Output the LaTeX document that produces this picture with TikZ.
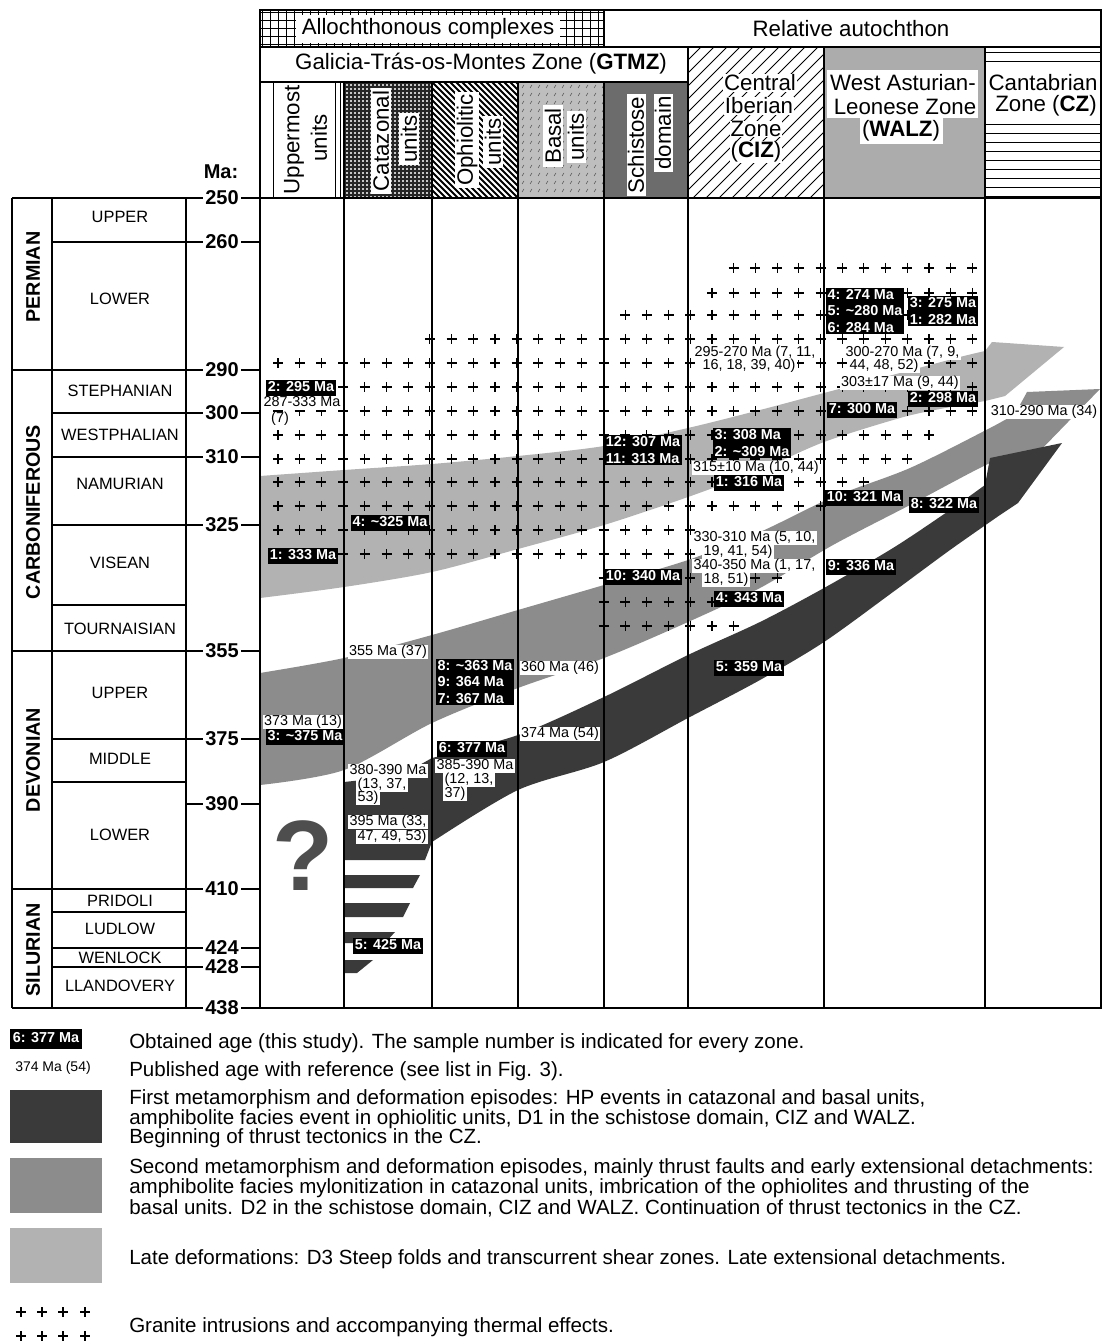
\documentclass[tikz,border=0pt]{standalone}
\usepackage{fontspec}
\setmainfont{Liberation Sans}
\definecolor{dkband}{RGB}{58,58,58}
\definecolor{mdband}{RGB}{140,140,140}
\definecolor{ltband}{RGB}{178,178,178}
\definecolor{basalc}{RGB}{190,190,190}
\definecolor{schistc}{RGB}{108,108,108}
\definecolor{walzc}{RGB}{172,172,172}
\definecolor{qmark}{RGB}{78,78,78}
\begin{document}
\begin{tikzpicture}[x=0.75pt,y=-0.75pt,
  frm/.style={line width=1.1pt},
  blab/.style={fill=black,text=white,font=\fontsize{10.8}{12.4}\selectfont\bfseries,inner xsep=1.6pt,inner ysep=1.2pt},
  bsingle/.style={blab,text height=7.6pt,text depth=1.8pt},
  bmulti/.style={blab,align=left},
  wlab/.style={fill=white,text=black,font=\fontsize{10.8}{12}\selectfont,inner xsep=1pt,inner ysep=0.4pt,text height=7.6pt,text depth=2pt},
  hdr/.style={font=\fontsize{16.7}{19}\selectfont,inner sep=1pt},
  hdrv/.style={hdr,rotate=90,fill=white,inner xsep=2pt,inner ysep=1pt},
  epoch/.style={font=\fontsize{12.3}{14}\selectfont},
  period/.style={font=\fontsize{14.8}{16}\selectfont\bfseries,rotate=90},
  age/.style={font=\fontsize{15}{16}\selectfont\bfseries,inner sep=0pt},
  legt/.style={font=\fontsize{15.4}{16}\selectfont,anchor=base west,inner sep=0pt},
  crs/.style={line width=0.8pt},
]
\useasboundingbox (0,0) rectangle (1102,1344);
\fill[white] (0,0) rectangle (1102,1344);

% ---------- header patterns ----------
\begin{scope}
\clip (260,10) rectangle (604,47);
\foreach \xx in {262,270,...,606} \draw[line width=0.5pt] (\xx,10) -- (\xx,47);
\foreach \yy in {12,20,...,46} \draw[line width=0.5pt] (260,\yy) -- (604,\yy);
\end{scope}
\foreach \xx in {273,335,340} \draw[line width=0.6pt] (\xx,82) -- (\xx,198);
\begin{scope}
\clip (344,82) rectangle (432,198);
\fill[gray!45] (344,82) rectangle (432,198);
\foreach \xx in {345,349,...,433} \draw[line width=0.9pt,black!85] (\xx,82) -- (\xx,198);
\foreach \yy in {83,87,...,198} \draw[line width=0.9pt,black!85] (344,\yy) -- (432,\yy);
\end{scope}
\begin{scope}
\clip (432,82) rectangle (518,198);
\foreach \xx in {312,318,...,520} \draw[line width=1.4pt] (\xx,82) -- ++(116,116);
\end{scope}
\begin{scope}
\clip (518,82) rectangle (604,198);
\fill[basalc] (518,82) rectangle (604,198);
\foreach \xx in {522,530,...,602} \foreach \yy in {88,96,...,196} \draw[gray!60!black,line width=0.4pt] (\xx,\yy) -- ++(2,-3);
\end{scope}
\fill[schistc] (604,82) rectangle (688,198);
\begin{scope}
\clip (688,47) rectangle (824,198);
\foreach \xx in {688,701,...,980} \draw[line width=0.6pt] (\xx,47) -- ++(-151,151);
\end{scope}
\fill[walzc] (824,47) rectangle (985,198);
\foreach \yy in {52,61,...,196} \draw[line width=0.6pt] (985,\yy) -- (1101,\yy);

% ---------- bands ----------
\fill[ltband] plot[smooth] coordinates {(260,476) (344,470) (432,464) (518,456) (604,446) (688,428) (760,410) (824,393) (900,373) (960,357) (985,351)}
  -- (992,342) -- (1064,347) -- (1005,396)
  -- plot[smooth] coordinates {(985,401) (940,409) (900,418) (824,442) (760,470) (688,497) (604,525) (518,549) (432,572) (344,587) (260,598)} -- cycle;
\fill[mdband] plot[smooth] coordinates {(260,673) (344,658) (432,635) (518,610) (604,585) (688,560) (760,532) (833,497) (910,468) (990,428) (1015,414)}
  -- (1027,392) -- (1100,389) -- (1035,456)
  -- plot[smooth] coordinates {(1020,455) (990,463) (910,505) (833,545) (760,588) (688,622) (604,658) (518,688) (432,723) (344,770) (260,785)} -- cycle;
\fill[dkband] (344,782) -- (400,776)
  -- plot[smooth] coordinates {(432,758) (518,735) (604,697) (688,655) (760,622) (824,588) (893,548) (950,510) (985,485)}
  -- (990,458) -- (1062,443) -- (1018,503)
  -- plot[smooth] coordinates {(1000,515) (950,550) (893,592) (824,642) (760,680) (688,718) (604,762) (518,790) (432,842)}
  -- (425,860) -- (344,860) -- cycle;
\fill[dkband] (344,875) -- (420,875) -- (413,888) -- (344,888) -- cycle;
\fill[dkband] (344,903) -- (410,903) -- (403,917) -- (344,917) -- cycle;
\fill[dkband] (344,932) -- (395,932) -- (385,943) -- (344,943) -- cycle;
\fill[dkband] (344,960) -- (373,960) -- (357,973) -- (344,973) -- cycle;

% ---------- granite crosses ----------
\foreach \yy/\ka/\kb in {268/21/32, 293/20/32, 315/16/32, 339/7/32, 363/0/32, 387/0/32, 411/0/32, 435/0/30, 459/0/29, 482/0/27, 506/0/25, 530/0/19, 554/3/19, 578/15/23, 602/15/20, 626/15/21} {
  \foreach \k in {\ka,...,\kb} {
    \draw[crs] ({278+21.7*\k-5},\yy) -- ++(10,0) ({278+21.7*\k},{\yy-5}) -- ++(0,10);
  }
}

\node[font=\fontsize{75}{75}\selectfont\bfseries,text=qmark] (qm) at (303,856) {?};

% ---------- frame lines ----------
\draw[frm] (260,10) rectangle (1101,1008);
\draw[frm] (260,47) -- (1101,47);
\draw[frm] (260,82) -- (688,82);
\draw[frm] (260,198) -- (1101,198);
\draw[frm] (604,10) -- (604,47);
\foreach \xx in {344,432,518,604} \draw[frm] (\xx,82) -- (\xx,1008);
\foreach \xx in {688,824,985} \draw[frm] (\xx,47) -- (\xx,1008);

% left table
\draw[frm] (12,198) -- (12,1008) (52,198) -- (52,1008) (186,198) -- (186,1008);
\draw[frm] (12,1008) -- (203,1008);
\foreach \yy in {198,370,651,889} \draw[frm] (12,\yy) -- (203,\yy);
\foreach \yy in {242,413,457,525,739,948,967} \draw[frm] (52,\yy) -- (203,\yy);
\foreach \yy in {605,782,912} \draw[frm] (52,\yy) -- (186,\yy);
\draw[frm] (186,804) -- (203,804);
\foreach \yy in {198,242,370,413,457,525,651,739,804,889,948,967,1008} \draw[frm] (241,\yy) -- (260,\yy);
\foreach \yy/\lab in {198/250,242/260,370/290,413/300,457/310,525/325,651/355,739/375,804/390,889/410,948/424,967/428,1008/438}
  \node[age] (a\lab) at (222,\yy) {\lab};
\node[age] (ma) at (221,172) {Ma:};

\node[period] (pP) at (33,277) {PERMIAN};
\node[period] (pC) at (33,512) {CARBONIFEROUS};
\node[period] (pD) at (33,760) {DEVONIAN};
\node[period] (pS) at (33,950) {SILURIAN};

\node[epoch] (e1) at (120,217) {UPPER};
\node[epoch] (e2) at (120,299) {LOWER};
\node[epoch] (e3) at (120,391) {STEPHANIAN};
\node[epoch] (e4) at (120,435) {WESTPHALIAN};
\node[epoch] (e5) at (120,484) {NAMURIAN};
\node[epoch] (e6) at (120,563) {VISEAN};
\node[epoch] (e7) at (120,629) {TOURNAISIAN};
\node[epoch] (e8) at (120,693) {UPPER};
\node[epoch] (e9) at (120,759) {MIDDLE};
\node[epoch] (e10) at (120,835) {LOWER};
\node[epoch] (e11) at (120,901) {PRIDOLI};
\node[epoch] (e12) at (120,929) {LUDLOW};
\node[epoch] (e13) at (120,958) {WENLOCK};
\node[epoch] (e14) at (120,986) {LLANDOVERY};

% ---------- header texts ----------
\node[hdr,fill=white,inner xsep=4pt,inner ysep=2.5pt] (hAC) at (428,29) {Allochthonous complexes};
\node[hdr] (hRA) at (851,29) {Relative autochthon};
\node[hdr] (hG) at (481,64) {Galicia-Trás-os-Montes Zone (\textbf{GTMZ})};
\node[hdrv] (hU1) at (294,140) {Uppermost};
\node[hdrv] (hU2) at (319,138) {units};
\node[hdrv] (hK1) at (381,141) {Catazonal};
\node[hdrv] (hK2) at (409,139) {units};
\node[hdrv] (hO1) at (467,140) {Ophiolitic};
\node[hdrv] (hO2) at (493,142) {units};
\node[hdrv] (hB1) at (553,136) {Basal};
\node[hdrv] (hB2) at (576,137) {units};
\node[hdrv] (hS1) at (636,145) {Schistose};
\node[hdrv] (hS2) at (663,133) {domain};
\node[hdr,fill=white,inner sep=0.5pt] (hC1) at (760,83) {Central};
\node[hdr,fill=white,inner sep=0.5pt] (hC2) at (759,106) {Iberian};
\node[hdr,fill=white,inner sep=0.5pt] (hC3) at (756,129) {Zone};
\node[hdr,fill=white,inner sep=0.5pt] (hC4) at (756,152) {(\textbf{CIZ})};
\fill[white] (827,70) rectangle (978,118);
\fill[white] (860,118) rectangle (943,144);
\node[hdr] (hW1) at (903,83) {West Asturian-};
\node[hdr] (hW2) at (905,107) {Leonese Zone};
\node[hdr] (hW3) at (901,131) {(\textbf{WALZ})};
\fill[white] (986,66) rectangle (1100,118);
\node[hdr] (hZ1) at (1043,83) {Cantabrian};
\node[hdr] (hZ2) at (1046,106) {Zone (\textbf{CZ})};

% ---------- age labels ----------
\node[bsingle] (b1) at (301,388) {2: 295 Ma};
\node[bsingle] (b2) at (303,556) {1: 333 Ma};
\node[bsingle] (b3) at (390,523) {4: \textasciitilde325 Ma};
\node[bsingle] (b4) at (305,737) {3: \textasciitilde375 Ma};
\node[bmulti] (b5) at (475,682) {8: \textasciitilde363 Ma\\9: 364 Ma\\7: 367 Ma};
\node[bsingle] (b6) at (472,749) {6: 377 Ma};
\node[bmulti] (b7) at (643,450) {12: 307 Ma\\11: 313 Ma};
\node[bsingle] (b8) at (643,577) {10: 340 Ma};
\node[bmulti] (b9) at (752,443) {3: 308 Ma\\2: \textasciitilde309 Ma};
\node[bsingle] (b10) at (749,483) {1: 316 Ma};
\node[bsingle] (b11) at (749,599) {4: 343 Ma};
\node[bsingle] (b12) at (749,668) {5: 359 Ma};
\node[bmulti] (b13) at (865,311) {4: 274 Ma\\5: \textasciitilde280 Ma\\6: 284 Ma};
\node[bmulti] (b14) at (943,311) {3: 275 Ma\\1: 282 Ma};
\node[bsingle] (b15) at (862,410) {7: 300 Ma};
\node[bsingle] (b16) at (943,399) {2: 298 Ma};
\node[bsingle] (b17) at (864,498) {10: 321 Ma};
\node[bsingle] (b18) at (944,505) {8: 322 Ma};
\node[bsingle] (b19) at (861,567) {9: 336 Ma};
\node[bsingle] (b20) at (388,946) {5: 425 Ma};

\node[wlab] (w1) at (302,403) {287-333 Ma};
\node[wlab] (w2) at (280,419) {(7)};
\node[wlab] (w3) at (303,722) {373 Ma (13)};
\node[wlab] (w4) at (388,652) {355 Ma (37)};
\node[wlab] (w5) at (560,668) {360 Ma (46)};
\node[wlab] (w6) at (560,734) {374 Ma (54)};
\node[wlab] (w7) at (388,771) {380-390 Ma};
\node[wlab,anchor=west] (w8) at (356,785) {(13, 37,};
\node[wlab,anchor=west] (w9) at (356,798) {53)};
\node[wlab] (w10) at (475,766) {385-390 Ma};
\node[wlab,anchor=west] (w11) at (443,780) {(12, 13,};
\node[wlab,anchor=west] (w12) at (443,794) {37)};
\node[wlab] (w13) at (388,822) {395 Ma (33,};
\node[wlab,anchor=east] (w14) at (428,837) {47, 49, 53)};
\node[wlab] (w15) at (755,353) {295-270 Ma (7, 11,};
\node[wlab] (w16) at (749,366) {16, 18, 39, 40)};
\node[wlab,anchor=west] (w17) at (844,353) {300-270 Ma (7, 9,};
\node[wlab,anchor=west] (w18) at (848,366) {44, 48, 52)};
\node[wlab] (w19) at (900,383) {303±17 Ma (9, 44)};
\node[wlab] (w20) at (756,468) {315±10 Ma (10, 44)};
\node[wlab,anchor=west] (w21) at (692,538) {330-310 Ma (5, 10,};
\node[wlab,anchor=west] (w22) at (702,552) {19, 41, 54)};
\node[wlab,anchor=west] (w23) at (692,566) {340-350 Ma (1, 17,};
\node[wlab,anchor=west] (w24) at (702,580) {18, 51)};
\node[wlab] (w25) at (1044,412) {310-290 Ma (34)};

% ---------- legend ----------
\node[blab,text height=7.4pt,text depth=1.8pt,inner ysep=3pt,inner xsep=2.5pt] (lg1) at (46,1039) {6: 377 Ma};
\node[font=\fontsize{10.5}{12}\selectfont,inner sep=0pt] (lg2) at (53,1068) {374 Ma (54)};
\fill[dkband] (10,1090) rectangle (102,1143);
\fill[mdband] (10,1158) rectangle (102,1213);
\fill[ltband] (10,1228) rectangle (102,1283);
\foreach \yy in {1312,1336} \foreach \xx in {21,42,63,85} \draw[crs] (\xx-5,\yy) -- ++(10,0) (\xx,\yy-5) -- ++(0,10);
\node[legt] (t1) at (129,1048) {Obtained age (this study). The sample number is indicated for every zone.};
\node[legt] (t2) at (129,1076) {Published age with reference (see list in Fig. 3).};
\node[legt] (t3) at (129,1104) {First metamorphism and deformation episodes: HP events in catazonal and basal units,};
\node[legt] (t4) at (129,1124) {amphibolite facies event in ophiolitic units, D1 in the schistose domain, CIZ and WALZ.};
\node[legt] (t5) at (129,1143) {Beginning of thrust tectonics in the CZ.};
\node[legt] (t6) at (129,1173) {Second metamorphism and deformation episodes, mainly thrust faults and early extensional detachments:};
\node[legt] (t7) at (129,1193) {amphibolite facies mylonitization in catazonal units, imbrication of the ophiolites and thrusting of the};
\node[legt] (t8) at (129,1214) {basal units. D2 in the schistose domain, CIZ and WALZ. Continuation of thrust tectonics in the CZ.};
\node[legt] (t9) at (129,1264) {Late deformations: D3 Steep folds and transcurrent shear zones. Late extensional detachments.};
\node[legt] (t10) at (129,1332) {Granite intrusions and accompanying thermal effects.};
\end{tikzpicture}
\end{document}
